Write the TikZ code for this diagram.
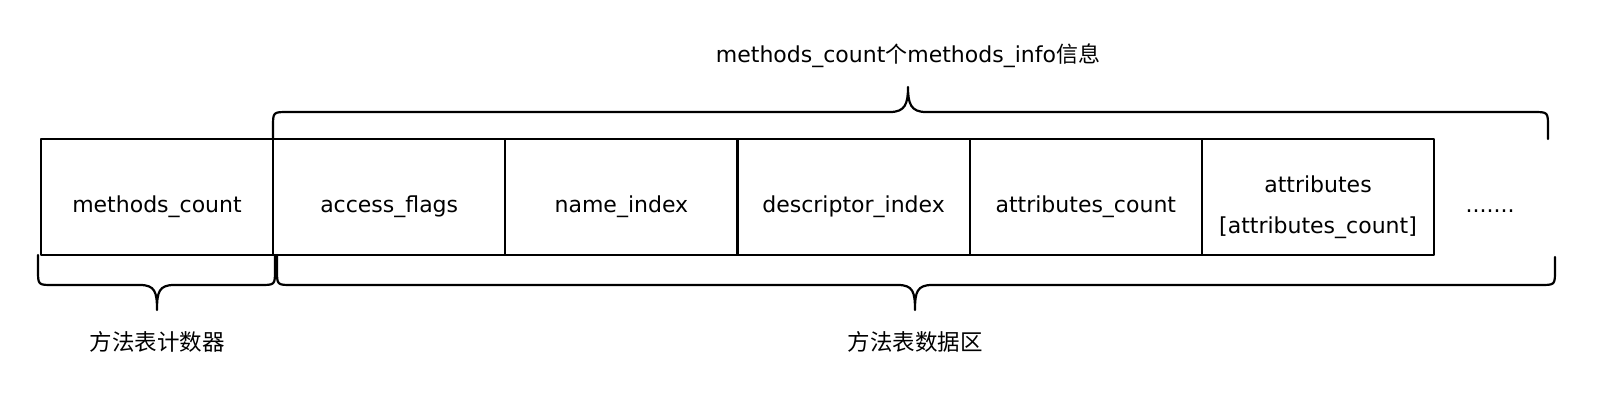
\documentclass[tikz,border=0pt]{standalone}
\usepackage{fontspec}
\setmainfont{DejaVu Sans}
\newfontfamily\cjk{Noto Sans CJK SC}
\usetikzlibrary{positioning}
\tikzset{
  line/.style={
    line width=2.2pt,
    line cap=round,
    line join=round
  },
  cell/.style={
    line,
    draw=black,
    minimum width=232.2pt,
    minimum height=116pt,
    inner sep=0pt,
    outer sep=0pt
  },
  cell-text/.style={
    font=\fontsize{22}{41}\selectfont,
    align=center,
    yshift=-10pt
  },
  brace/.style={line, draw=black},
  label-cn/.style={font=\fontsize{22.5}{26}\selectfont\cjk},
  label-top/.style={font=\fontsize{22}{26}\selectfont}
}

\begin{document}
\begin{tikzpicture}[x=1pt,y=-1pt]
  \useasboundingbox (0,0) rectangle (1600,400);
  % table cells
  \node[cell, label={[cell-text]center:methods\_count}] (count) at (157,197) {};
  \node[cell, right=0pt of count, label={[cell-text]center:access\_flags}] (flags) {};
  \node[cell, right=0pt of flags, label={[cell-text]center:name\_index}] (name) {};
  \node[cell, right=0pt of name, label={[cell-text]center:descriptor\_index}] (desc) {};
  \node[cell, right=0pt of desc, label={[cell-text]center:attributes\_count}] (attrcount) {};
  \node[cell, right=0pt of attrcount,
    label={[cell-text]center:attributes\\{}[attributes\_count]}] (attrs) {};
  \node[font=\fontsize{22}{26}\selectfont, anchor=base] (more) at (1490,212) {.......};
  % top brace
  \draw[brace] (273,139) -- (273,127) .. controls (273,112) .. (288,112)
    -- (890,112) .. controls (905,112) and (908,104) .. (908,87)
    .. controls (908,104) and (911,112) .. (926,112)
    -- (1533,112) .. controls (1548,112) .. (1548,127) -- (1548,139);
  \node[label-top, anchor=base] (info) at (908,62) {methods\_count{\cjk 个}methods\_info{\cjk 信息}};
  % bottom braces
  \draw[brace] (38,255) -- (38,270) .. controls (38,285) .. (53,285)
    -- (140,285) .. controls (155,285) and (157,292) .. (157,310)
    .. controls (157,292) and (159,285) .. (174,285)
    -- (260,285) .. controls (275,285) .. (275,270) -- (275,255);
  \draw[brace] (277,255) -- (277,270) .. controls (277,285) .. (292,285)
    -- (898,285) .. controls (913,285) and (915,292) .. (915,310)
    .. controls (915,292) and (917,285) .. (932,285)
    -- (1540,285) .. controls (1555,285) .. (1555,270) -- (1555,257);
  \node[label-cn] (counter) at (157,342) {方法表计数器};
  \node[label-cn] (data) at (915,342) {方法表数据区};
\end{tikzpicture}
\end{document}
